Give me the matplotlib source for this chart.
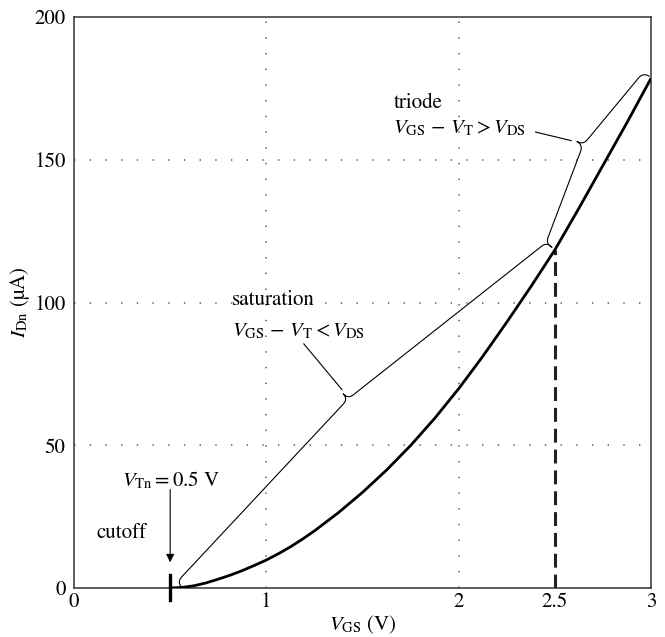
import numpy as np
import matplotlib
matplotlib.use("Agg")
import matplotlib.pyplot as plt

plt.rcParams["mathtext.fontset"] = "stix"
plt.rcParams["font.family"] = ["STIXGeneral", "DejaVu Serif"]
plt.rcParams["lines.scale_dashes"] = False

# ── data ────────────────────────────────────────────────────
vgs = [0.5, 0.5625, 0.625, 0.6875, 0.75, 0.8125, 0.875, 0.9375, 1.0,
       1.0625, 1.125, 1.1875, 1.25, 1.375, 1.5, 1.625, 1.75,
       1.875, 2.0, 2.125, 2.25, 2.375, 2.5, 2.625, 2.75, 2.875, 3.0]
idn = [0, 0.2, 0.8, 1.8, 3.1, 4.5, 6.1, 7.9, 9.8,
       12.0, 14.4, 17.1, 20.0, 26.4, 33.5, 41.3, 49.9,
       59.4, 69.8, 81.1, 93.1, 105.5, 118.4, 133.0, 148.0, 163.0, 178.5]

v_tn = 0.5
v_bias = 2.5
i_bias = 118.4

x_ticks = [0, 1, 2, 2.5, 3]
x_tick_labels = ["0", "1", "2", "2.5", "3"]
y_ticks = [0, 50, 100, 150, 200]
grid_x = [1, 2]
grid_y = [50, 100, 150]


def bezier(p0, p1, p2, n=14):
    t = np.linspace(0, 1, n)[:, None]
    return (1 - t) ** 2 * p0 + 2 * (1 - t) * t * p1 + t ** 2 * p2


def brace(ax, a, tip, b, h=7.0, **kw):
    """Curly brace from a to b (data coords) with its point at tip."""
    to_px = ax.transData.transform
    to_data = ax.transData.inverted().transform
    A, T, B = to_px(a), to_px(tip), to_px(b)
    chord = B - A
    n = np.array([-chord[1], chord[0]])
    n /= np.linalg.norm(n)
    if np.dot(T - A, n) < 0:
        n = -n
    arms = []
    for E in (A, B):
        s = (T - n * h) - (E + n * h)
        s /= np.linalg.norm(s)
        seg1 = bezier(E, E + n * h, E + n * h + s * h)
        seg2 = bezier(T - n * h - s * h, T - n * h, T)
        arms.append(np.vstack([seg1, seg2]))
    path = np.vstack([arms[0], arms[1][::-1]])
    pts = to_data(path)
    ax.plot(pts[:, 0], pts[:, 1], **kw)


fig = plt.figure(figsize=(6.65, 6.37), dpi=100)
ax = fig.add_axes([74 / 665, 49 / 637, 577 / 665, 571 / 637])
ax.set_xlim(0, 3)
ax.set_ylim(0, 200)

# grid
for gx in grid_x:
    ax.plot([gx, gx], [0, 200], color="#555555", lw=1.1,
            dashes=(1.0, 10.3), zorder=1)
for gy in grid_y:
    ax.plot([0, 3], [gy, gy], color="#555555", lw=1.1,
            dashes=(1.0, 10.3), zorder=1)

# main curve
ax.plot(vgs, idn, color="black", lw=2.0, zorder=4, solid_capstyle="butt")

# bias line
ax.plot([v_bias, v_bias], [0, i_bias], color="#222222", lw=2.2,
        dashes=(10, 5), zorder=3)

# threshold marker
ax.plot([v_tn, v_tn], [-4.3, 4.5], color="black", lw=2.4, clip_on=False,
        zorder=5)

# braces
thin = dict(color="black", lw=0.8, zorder=3)
brace(ax, (0.56, 0.3), (1.40, 68.0), (2.484, 119.4), **thin)
brace(ax, (2.484, 119.4), (2.615, 156.4), (2.99, 179.3), **thin)
ax.plot([1.195, 1.393], [85.5, 69.5], **thin)
ax.plot([2.40, 2.585], [159.7, 156.7], **thin)

# text
fs = 15
ax.text(0.823, 100.9, "saturation", fontsize=fs, va="center", ha="left")
ax.text(0.823, 90.0,
        r"$V_{\mathrm{GS}}\,-\,V_{\mathrm{T}} < V_{\mathrm{DS}}$",
        fontsize=fs, va="center", ha="left")
ax.text(1.661, 170.0, "triode", fontsize=fs, va="center", ha="left")
ax.text(1.661, 160.8,
        r"$V_{\mathrm{GS}}\,-\,V_{\mathrm{T}} > V_{\mathrm{DS}}$",
        fontsize=fs, va="center", ha="left")
ax.text(0.25, 37.8, r"$V_{\mathrm{Tn}} = 0.5\ \mathrm{V}$",
        fontsize=fs, va="center", ha="left")
ax.text(0.115, 19.3, "cutoff", fontsize=fs, va="center", ha="left")
ax.annotate("", xy=(v_tn, 9.0), xytext=(v_tn, 34.5),
            arrowprops=dict(arrowstyle="-|>", color="black", lw=0.8,
                            mutation_scale=12, shrinkA=0, shrinkB=0))

# axes styling
ax.set_xticks(x_ticks)
ax.set_xticklabels(x_tick_labels)
ax.set_yticks(y_ticks)
ax.tick_params(length=0, labelsize=fs)
ax.tick_params(axis="x", pad=3)
ax.tick_params(axis="y", pad=6)
for sp in ax.spines.values():
    sp.set_color("#333333")
    sp.set_linewidth(1.1)

ax.set_xlabel(r"$V_{\mathrm{GS}}$ (V)", fontsize=fs, va="top")
ax.xaxis.set_label_coords(0.5, -0.045)
ax.set_ylabel(r"$I_{\mathrm{Dn}}$ (µA)", fontsize=fs, labelpad=2)

fig.savefig("out.png", dpi=100)
